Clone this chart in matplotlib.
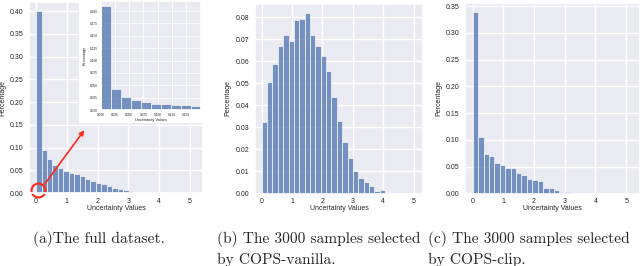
import matplotlib
matplotlib.use("Agg")
import matplotlib.pyplot as plt
import numpy as np
import seaborn as sns
from matplotlib.patches import Rectangle

# Histogram values (30 bins over [0, ln 200])
max_unc = 5.3
full_data = [0.400, 0.095, 0.075, 0.061, 0.055, 0.048, 0.043, 0.042, 0.037, 0.031,
             0.027, 0.023, 0.019, 0.015, 0.010, 0.008, 0.0055, 0.004, 0.0018, 0.001,
             0.0005, 0.0003, 0.0002, 0.0001, 0.0001, 0.0001, 0.00005, 0.00005, 0.00003, 0.00002]
first_bin_zoom = [0.210, 0.043, 0.027, 0.020, 0.016, 0.013, 0.0116, 0.011, 0.0095, 0.0075]
cops_vanilla = [0.0325, 0.0508, 0.0588, 0.0670, 0.0717, 0.0690, 0.0785, 0.0793, 0.0821, 0.0721,
                0.0667, 0.0624, 0.0558, 0.0440, 0.0329, 0.0232, 0.0160, 0.0101, 0.0070, 0.0052,
                0.0035, 0.0012, 0.0017, 0.0004, 0.0003, 0.0001, 0.0001, 0.0, 0.0, 0.0]
cops_clip = [0.339, 0.106, 0.074, 0.070, 0.0575, 0.054, 0.048, 0.0475, 0.0375, 0.034,
             0.0275, 0.025, 0.023, 0.011, 0.0095, 0.006, 0.003, 0.002, 0.0012, 0.0006,
             0.0003, 0.0001, 0.0, 0.0, 0.0, 0.0, 0.0, 0.0, 0.0, 0.0]
captions = ["(a)The full dataset.",
            "(b) The 3000 samples selected\nby COPS-vanilla.",
            "(c) The 3000 samples selected\nby COPS-clip."]

sns.set_theme(style="darkgrid")
plt.rcParams["font.family"] = ["Liberation Sans", "DejaVu Sans"]

bar_color = "#4C72B0"


def draw_hist(ax, values, lo, hi, fs=5):
    edges = np.linspace(lo, hi, len(values) + 1)
    ax.bar(edges[:-1], values, width=edges[1] - edges[0], align="edge",
           color=bar_color, alpha=0.75, edgecolor="white", linewidth=0.6)
    ax.set_xlabel("Uncertainty Values", fontsize=fs)
    ax.set_ylabel("Percentage", fontsize=fs)
    ax.tick_params(labelsize=fs, length=0)
    ax.tick_params(axis="x", pad=3.4)
    ax.tick_params(axis="y", pad=4.0)


def place_labels(ax, width_px, height_px, ylab_px):
    # label offsets in pixels from the axes' bottom-left corner
    # (the ylabel anchor is its right-hand edge once rotated)
    ax.yaxis.set_label_coords(-ylab_px / width_px, 0.5)
    ax.xaxis.set_label_coords(0.5, -12 / height_px)


fig = plt.figure(figsize=(6.4, 2.66), dpi=100)

ax_a = fig.add_axes([29 / 640, 73 / 266, 174 / 640, 191 / 266])
draw_hist(ax_a, full_data, 0, max_unc)
ax_a.set_xlim(-0.23, 5.42)
ax_a.set_ylim(0, 0.42)
place_labels(ax_a, 174, 191, 23)

ax_b = fig.add_axes([255 / 640, 72.5 / 266, 168 / 640, 190 / 266])
draw_hist(ax_b, cops_vanilla, 0, max_unc)
ax_b.set_xlim(-0.22, 5.31)
ax_b.set_ylim(0, 0.0862)
place_labels(ax_b, 168, 190, 23.5)

ax_c = fig.add_axes([465 / 640, 72.5 / 266, 175 / 640, 190.5 / 266])
draw_hist(ax_c, cops_clip, 0, max_unc)
ax_c.set_xlim(-0.25, 5.45)
ax_c.set_ylim(0, 0.356)
place_labels(ax_c, 175, 190.5, 22.5)

# red circle around the first bin and arrow to the zoom-in
ax_a.plot(0.05, 0.006, "o", ms=10, mfc="none", mec="#ff2a1a", mew=1.5, clip_on=False)
ax_a.annotate("", xy=(1.62, 0.143), xytext=(0.23, 0.015),
              arrowprops=dict(arrowstyle="-|>", color="#ff2a1a", lw=1.2, mutation_scale=7))

# zoomed-in histogram of the first bin, pasted on a white box
fig.add_artist(Rectangle((79 / 640, 143 / 266), 124 / 640, 123 / 266,
                         transform=fig.transFigure, facecolor="white", edgecolor="none", zorder=1))
ax_in = fig.add_axes([101 / 640, 156 / 266, 100 / 640, 109 / 266], zorder=2)
bin_w = max_unc / len(full_data)
draw_hist(ax_in, first_bin_zoom, 0, bin_w, fs=2.3)
ax_in.xaxis.label.set_size(2.8)
ax_in.yaxis.label.set_size(2.8)
ax_in.set_xticks(np.arange(0, 0.151, 0.025))
ax_in.set_yticks(np.arange(0, 0.201, 0.025))
ax_in.set_xlim(0, bin_w)
ax_in.set_ylim(0, 0.2205)
ax_in.tick_params(pad=2.0)
ax_in.yaxis.set_label_coords(-14 / 100, 0.5)
ax_in.xaxis.set_label_coords(0.5, -8 / 109)
for line in ax_in.get_xgridlines() + ax_in.get_ygridlines():
    line.set_linewidth(0.6)

# captions
cap_x = [33, 217, 428]
for x, cap in zip(cap_x, captions):
    for i, part in enumerate(cap.split("\n")):
        fig.text(x / 640, 1 - (243 + 21 * i) / 266, part, family="cmr10",
                 fontsize=11.15, ha="left", va="baseline")

fig.savefig("out.png", dpi=100)
